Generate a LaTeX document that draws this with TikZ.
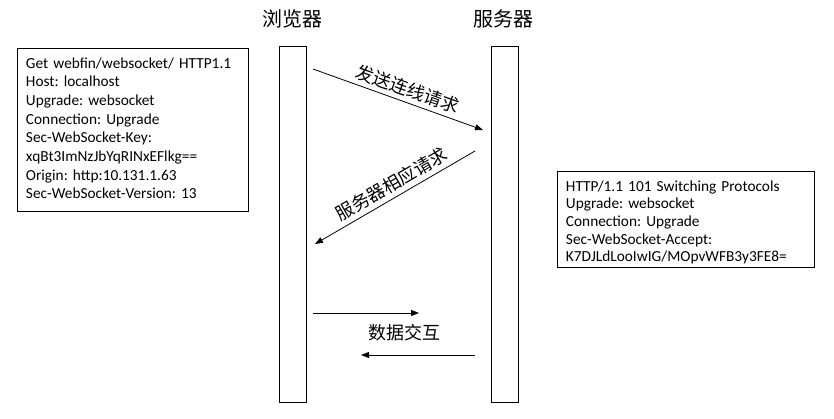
\documentclass[tikz,border=0pt]{standalone}
\usepackage{fontspec}
\setmainfont{Carlito}
\newfontfamily\cjk{Noto Sans CJK SC}
\usetikzlibrary{arrows.meta}
\frenchspacing

\begin{document}
\begin{tikzpicture}[x=0.75pt,y=-0.75pt,
  lifeline/.style={draw,line width=0.75pt,minimum width=20.25pt,minimum height=267pt,inner sep=0},
  msgbox/.style={draw,line width=0.75pt,inner sep=0,anchor=north west},
  msgtext/.style={anchor=base west,text width=240pt,align=left,inner sep=0},
  title/.style={font=\cjk\fontsize{15pt}{18pt}\selectfont},
  msg/.style={-{Triangle[length=6pt,width=4.5pt]},line width=0.6pt},
  msglabel/.style={font=\cjk\fontsize{13.5pt}{16pt}\selectfont}]
\useasboundingbox (0,0) rectangle (834,418);
\node[title] (browsertitle) at (292,19) {浏览器};
\node[title] (servertitle) at (503,19) {服务器};
\node[lifeline] (browser) at (292.5,224) {};
\node[lifeline] (server) at (504.5,224) {};
\node[msgbox,minimum width=173.25pt,minimum height=121.8pt] (request) at (16.7,48.3) {};
\node[msgtext,font=\fontsize{11.5pt}{14pt}\selectfont] (requesttext) at (25.7,68) {Get webfin/websocket/ HTTP1.1\\
Host: localhost\\
Upgrade: websocket\\
Connection: Upgrade\\
Sec-WebSocket-Key:\\
xqBt3ImNzJbYqRINxEFlkg==\\
Origin: http:10.131.1.63\\
Sec-WebSocket-Version: 13};
\node[msgbox,minimum width=193pt,minimum height=71.8pt] (response) at (556.7,171) {};
\node[msgtext,font=\fontsize{11.5pt}{13.3pt}\selectfont] (responsetext) at (565.7,191) {HTTP/1.1 101 Switching Protocols\\
Upgrade: websocket\\
Connection: Upgrade\\
Sec-WebSocket-Accept:\\
K7DJLdLooIwIG/MOpvWFB3y3FE8=};
\coordinate (req-a) at (313,69);
\coordinate (req-b) at (483,130);
\draw[msg] (req-a) -- node[msglabel,sloped,above,pos=0.53] (reqlabel) {发送连线请求} (req-b);
\coordinate (resp-a) at (475,151);
\coordinate (resp-b) at (315,244);
\draw[msg] (resp-a) -- node[msglabel,sloped,above,pos=0.48] (resplabel) {服务器相应请求} (resp-b);
\coordinate (data-a) at (313,313);
\coordinate (data-b) at (419,313);
\draw[msg] (data-a) -- (data-b);
\coordinate (data-c) at (475,355);
\coordinate (data-d) at (361,355);
\draw[msg] (data-c) -- (data-d);
\node[msglabel] (datalabel) at (404,333) {数据交互};
\end{tikzpicture}
\end{document}
